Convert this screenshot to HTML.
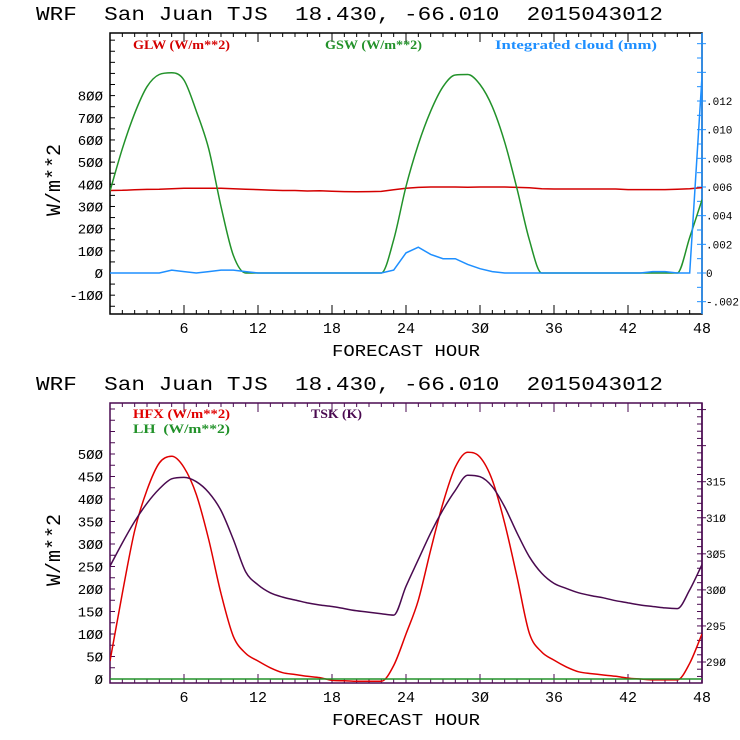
<!DOCTYPE html>
<html><head><meta charset="utf-8"><style>
html,body{margin:0;padding:0;background:#fff;width:740px;height:740px;overflow:hidden}
svg{display:block}
.t{font-family:"Liberation Mono","DejaVu Sans Mono",monospace;fill:#000;white-space:pre}
.lg{font-family:"Liberation Serif",serif;font-weight:bold;font-size:13px;white-space:pre}
</style></head><body>
<svg id="chart" width="740" height="740" viewBox="0 0 740 740" xmlns="http://www.w3.org/2000/svg">
</svg>
<script>
// ---- data (hourly, forecast hours 0..48) ----
const hours = Array.from({length:49},(_,i)=>i);
const xTicks = [6,12,18,24,30,36,42,48];
const glw = [372,373,375,377,378,380,382,382,382,382,380,378,376,374,372,372,370,371,369,367,366,367,368,375,382,386,388,388,388,387,388,388,388,386,384,380,379,379,379,379,379,379,376,376,376,376,378,380,385];
const gsw = [370,560,720,840,895,903,870,730,560,300,80,0,0,0,0,0,0,0,0,0,0,0,0,150,390,580,730,840,893,895,850,750,590,380,150,0,0,0,0,0,0,0,0,0,0,0,0,160,330];
const cloud = [0,0,0,0,0,0.0002,0.0001,0,0.0001,0.0002,0.0002,0.0001,0,0,0,0,0,0,0,0,0,0,0,0.0002,0.0014,0.0018,0.0013,0.001,0.001,0.0006,0.0003,0.0001,0,0,0,0,0,0,0,0,0,0,0,0,0.0001,0.0001,0,0,0.0137];
const topLeftTicks = [-100,0,100,200,300,400,500,600,700,800];
const topRightTicks = [-0.002,0,0.002,0.004,0.006,0.008,0.010,0.012];
const topRightLabels = ["-.002","0",".002",".004",".006",".008",".010",".012"];
const hfx = [40,190,330,420,480,495,470,410,310,190,95,57,40,25,14,10,6,3,-3,-4,-5,-5,-5,30,100,175,287,391,471,504,493,442,346,227,102,60,42,27,16,12,9,6,2,0,-2,-2,-2,35,100];
const lh = hours.map(()=>0);
const tsk = [303.3,306.5,309.5,312,314,315.4,315.6,315,313.5,311,307,302.5,300.7,299.6,299,298.6,298.2,297.9,297.7,297.4,297.1,296.9,296.7,296.5,300.5,304.2,307.9,311.1,313.8,315.9,315.7,314.3,311.5,307.9,304.6,302.3,300.9,300.2,299.6,299.2,298.9,298.5,298.2,297.9,297.7,297.5,297.4,300,303.5];
const botLeftTicks = [0,50,100,150,200,250,300,350,400,450,500];
const botRightTicks = [290,295,300,305,310,315];

const NS="http://www.w3.org/2000/svg";
const svg=document.getElementById('chart');
function mk(tag,attrs,parent){const e=document.createElementNS(NS,tag);for(const k in attrs)e.setAttribute(k,attrs[k]);(parent||svg).appendChild(e);return e;}
function txt(s,x,y,attrs,parent){const e=mk('text',Object.assign({x:x,y:y},attrs),parent);e.textContent=s;return e;}

const X0=110,X1=702;
const xs=h=>X0+(X1-X0)*h/48;
function lin(v0,p0,v1,p1){return v=>p0+(v-v0)*(p1-p0)/(v1-v0);}

// monotone cubic path (no overshoot)
function monoPath(px,py,smooth){
  const n=px.length;
  if(!smooth){return px.map((x,i)=>(i?'L':'M')+x.toFixed(1)+','+py[i].toFixed(1)).join('');}
  const d=[],m=new Array(n);
  for(let i=0;i<n-1;i++)d.push((py[i+1]-py[i])/(px[i+1]-px[i]));
  m[0]=d[0];m[n-1]=d[n-2];
  for(let i=1;i<n-1;i++){m[i]=(d[i-1]*d[i]<=0)?0:(d[i-1]+d[i])/2;}
  for(let i=0;i<n-1;i++){
    if(d[i]===0){m[i]=0;m[i+1]=0;continue;}
    const a=m[i]/d[i],b=m[i+1]/d[i],s=a*a+b*b;
    if(s>9){const t=3/Math.sqrt(s);m[i]=t*a*d[i];m[i+1]=t*b*d[i];}
  }
  let p='M'+px[0].toFixed(1)+','+py[0].toFixed(1);
  for(let i=0;i<n-1;i++){
    const h=(px[i+1]-px[i])/3;
    p+='C'+(px[i]+h).toFixed(1)+','+(py[i]+m[i]*h).toFixed(1)+' '+(px[i+1]-h).toFixed(1)+','+(py[i+1]-m[i+1]*h).toFixed(1)+' '+px[i+1].toFixed(1)+','+py[i+1].toFixed(1);
  }
  return p;
}

function title(y){
  const t=txt('WRF  San Juan TJS  18.430, -66.010  2015043012',36,y,{class:'t','font-size':'19','textLength':'627','lengthAdjust':'spacingAndGlyphs'});
  
  
}

function panel(o){
  const g=mk('g',{});
  
  
  const cid='clip'+o.name;
  const cp=mk('clipPath',{id:cid},g);mk('rect',{x:X0,y:o.top,width:X1-X0,height:o.bot-o.top},cp);
  const fr=mk('rect',{x:X0,y:o.top,width:X1-X0,height:o.bot-o.top,fill:'none',stroke:o.frame,'stroke-width':1.5},g);
  
  
  for(let h=1;h<48;h++){
    const x=xs(h),L=(h%6===0)?9:4;
    mk('line',{x1:x,x2:x,y1:o.bot,y2:o.bot-L,stroke:o.frame},g);
    mk('line',{x1:x,x2:x,y1:o.top,y2:o.top+L,stroke:o.frame},g);
  }
  xTicks.forEach(h=>{
    const t=txt(String(h).replace(/0/g,'Ø'),xs(h),o.bot+19,{class:'t','font-size':'15','text-anchor':'middle'},g);
    
    
  });
  const xl=txt('FORECAST HOUR',406,o.bot+42,{class:'t','font-size':'17','text-anchor':'middle','textLength':'148','lengthAdjust':'spacingAndGlyphs'},g);
  
  
  for(let v=o.lmin;v<=o.lmax;v+=o.lstep){
    const y=o.ly(v); if(y<o.top+1||y>o.bot-1)continue;
    mk('line',{x1:X0,x2:X0+5,y1:y,y2:y,stroke:o.frame},g);
  }
  o.lticks.forEach(v=>{
    const t=txt(String(v).replace(/0/g,'Ø'),103,o.ly(v)+5,{class:'t','font-size':'14','text-anchor':'end'},g);
    
    
  });
  const yl=txt('W/m**2',0,0,{class:'t','font-size':'20','text-anchor':'middle','transform':`translate(60,${o.ylc}) rotate(-90)`},g);
  
  
  mk('line',{x1:X1,x2:X1,y1:o.top,y2:o.bot,stroke:o.rcol,'stroke-width':1.5},g);
  for(let k=Math.ceil(o.rmin/o.rstep);k*o.rstep<=o.rmax;k++){
    const v=k*o.rstep,y=o.ry(v); if(y<o.top+1||y>o.bot-1)continue;
    const major=(k%o.rmaj===0);
    mk('line',{x1:X1-5,x2:X1+(major?4:0),y1:y,y2:y,stroke:o.rcol},g);
  }
  o.rticks.forEach((v,i)=>{
    const t=txt(o.rlabels?o.rlabels[i]:String(v).replace(/0/g,'Ø'),706,o.ry(v)+4,{class:'t','font-size':'11'},g);
    
    
  });
  o.series.forEach(s=>{
    const px=hours.map(h=>xs(h)),py=s.vals.map(v=>s.sc(v));
    const p=mk('path',{d:monoPath(px,py,s.smooth),fill:'none',stroke:s.col,'stroke-width':1.5,'clip-path':`url(#${cid})`},g);
    
    
  });
  o.legend.forEach(l=>{
    const t=txt(l[0],l[1],l[2],{class:'lg',fill:l[3],'textLength':l[4],'lengthAdjust':'spacingAndGlyphs'},g);
    
    
  });
}

title(20);
const ly1=lin(0,273,800,95.6), ry1=lin(0,273,0.012,101);
panel({name:'radiation-panel',top:33,bot:314,frame:'#000',rcol:'#1e8fff',
  ly:ly1,lmin:-150,lmax:1050,lstep:50,lticks:topLeftTicks,ylc:180,
  ry:ry1,rmin:-0.003,rmax:0.016,rstep:0.001,rmaj:2,rticks:topRightTicks,rlabels:topRightLabels,
  series:[{name:'glw-line',vals:glw,sc:ly1,col:'#d40000'},{name:'gsw-line',vals:gsw,sc:ly1,col:'#22922a',smooth:true},{name:'cloud-line',vals:cloud,sc:ry1,col:'#1e8fff'}],
  legend:[['GLW (W/m**2)',133,49,'#d40000',97],['GSW (W/m**2)',325,49,'#22922a',97],['Integrated cloud (mm)',495,49,'#1e8fff',162]]});

title(390);
const ly2=lin(0,679,500,454), ry2=lin(290,662,315,481.7);
panel({name:'flux-panel',top:403,bot:683,frame:'#4a0a50',rcol:'#4a0a50',
  ly:ly2,lmin:0,lmax:600,lstep:25,lticks:botLeftTicks,ylc:550,
  ry:ry2,rmin:287,rmax:326,rstep:1,rmaj:5,rticks:botRightTicks,
  series:[{name:'hfx-line',vals:hfx,sc:ly2,col:'#e00000',smooth:true},{name:'tsk-line',vals:tsk,sc:ry2,col:'#4a0a50',smooth:true},{name:'lh-line',vals:lh,sc:ly2,col:'#22922a'}],
  legend:[['HFX (W/m**2)',133,418,'#e00000',97],['LH  (W/m**2)',133,433,'#22922a',97],['TSK (K)',311,418,'#4a0a50',51]]});
</script>
</body></html>
